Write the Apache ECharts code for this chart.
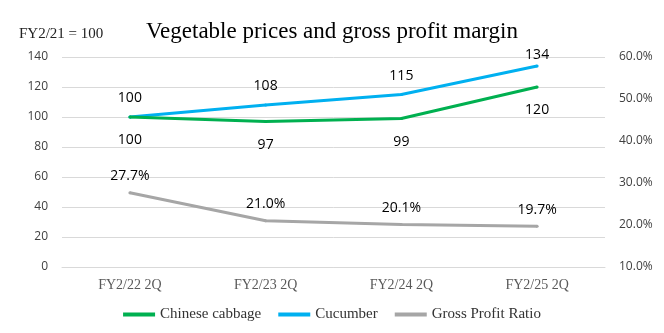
<!DOCTYPE html>
<html>
<head>
<meta charset="utf-8">
<script src="https://cdn.jsdelivr.net/npm/echarts@6/dist/echarts.min.js"></script>
<style>
html,body{margin:0;padding:0;background:#fff;}
#chart{width:664px;height:333px;}
</style>
</head>
<body>
<div id="chart"></div>
<script>
// Half-year periods
const categories = ['FY2/22 2Q', 'FY2/23 2Q', 'FY2/24 2Q', 'FY2/25 2Q'];
// Price index, FY2/21 = 100
const chineseCabbage = [100, 97, 99, 120];
const cucumber = [100, 108, 115, 134];
// Gross profit ratio, %
const grossProfitRatio = [27.7, 21.0, 20.1, 19.7];
// Axis tick settings
const leftAxisTicks = { min: 0, max: 140, interval: 20 };
const rightAxisTicks = { min: 10, max: 60, interval: 10 };

const serif = '"Liberation Serif", "DejaVu Serif", serif';
const sans = '"Open Sans", "Liberation Sans", sans-serif';

// small point markers, hidden inside the 3px line, anchor the value labels
function lineSeries(name, data, color, axis, labelPos, dist, fmt) {
  return {
    name: name,
    type: 'line',
    data: data,
    yAxisIndex: axis,
    symbol: 'circle',
    symbolSize: 3,
    showSymbol: true,
    color: color,
    itemStyle: { color: color },
    lineStyle: { width: 3, color: color },
    label: {
      show: true, position: labelPos, distance: dist,
      fontFamily: sans, fontSize: 14, color: '#000',
      formatter: fmt
    },
    labelLayout: { hideOverlap: false }
  };
}

const cucumberSeries = lineSeries('Cucumber', cucumber, '#00b0f0', 0, 'top', 10,
  p => String(p.value));
// the top value sits close to the plot's upper edge, so its label is tucked in lower
cucumberSeries.data = cucumber.map((v, i) =>
  i === cucumber.length - 1 ? { value: v, label: { distance: 2 } } : v);
cucumberSeries.z = 2;

const chart = echarts.init(document.getElementById('chart'));
chart.setOption({
  animation: false,
  backgroundColor: '#fff',
  title: [
    {
      text: 'Vegetable prices and gross profit margin',
      left: 'center',
      top: 15,
      textStyle: { fontFamily: serif, fontSize: 23, fontWeight: 'normal', color: '#000' }
    },
    {
      text: 'FY2/21 = 100',
      left: 14,
      top: 22,
      textStyle: { fontFamily: serif, fontSize: 15, fontWeight: 'normal', color: '#222' }
    }
  ],
  grid: { left: 62, right: 59, top: 57, bottom: 66 },
  legend: {
    bottom: 6,
    left: 'center',
    itemWidth: 32,
    itemHeight: 4,
    itemGap: 17,
    icon: 'rect',
    textStyle: { fontFamily: serif, fontSize: 15, color: '#333' },
    data: ['Chinese cabbage', 'Cucumber', 'Gross Profit Ratio']
  },
  xAxis: {
    type: 'category',
    data: categories,
    boundaryGap: true,
    axisLine: { lineStyle: { color: '#d9d9d9' } },
    axisTick: { show: false },
    axisLabel: { fontFamily: serif, fontSize: 14, color: '#595959', margin: 11 }
  },
  yAxis: [
    {
      type: 'value',
      min: leftAxisTicks.min,
      max: leftAxisTicks.max,
      interval: leftAxisTicks.interval,
      axisLine: { show: false },
      axisTick: { show: false },
      axisLabel: { fontFamily: sans, fontSize: 12, color: '#404040', margin: 14 },
      splitLine: { lineStyle: { color: '#d9d9d9', width: 1 } }
    },
    {
      type: 'value',
      min: rightAxisTicks.min,
      max: rightAxisTicks.max,
      interval: rightAxisTicks.interval,
      axisLine: { show: false },
      axisTick: { show: false },
      splitLine: { show: false },
      axisLabel: {
        fontFamily: sans, fontSize: 12, color: '#404040', margin: 14,
        formatter: v => v.toFixed(1) + '%'
      }
    }
  ],
  series: [
    Object.assign(lineSeries('Chinese cabbage', chineseCabbage, '#00b050', 0, 'bottom', 15,
      p => String(p.value)), { z: 3 }),
    cucumberSeries,
    lineSeries('Gross Profit Ratio', grossProfitRatio, '#a6a6a6', 1, 'top', 8,
      p => p.value.toFixed(1) + '%')
  ]
});
</script>
</body>
</html>
